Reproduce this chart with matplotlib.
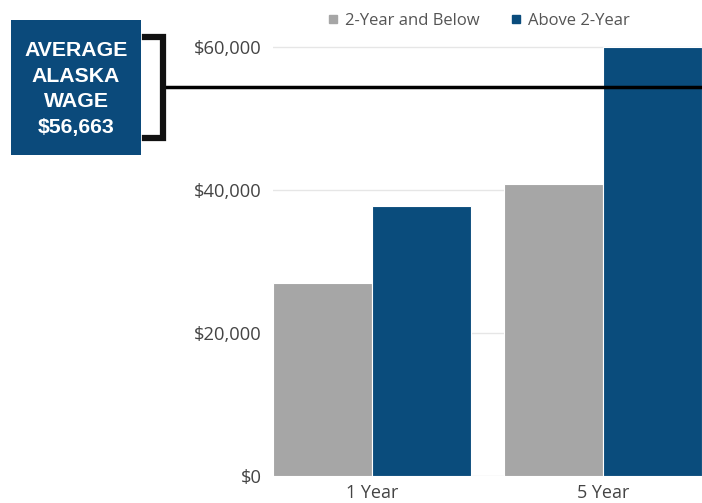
import matplotlib
matplotlib.use("Agg")
import matplotlib.pyplot as plt
import matplotlib.transforms as mtransforms
from matplotlib.patches import Rectangle
from matplotlib.lines import Line2D
import numpy as np

# data
categories = ["1 Year", "5 Year"]
series_names = ["2-Year and Below", "Above 2-Year"]
below_2yr = [27000, 40900]
above_2yr = [37700, 60000]
avg_label = "AVERAGE\nALASKA\nWAGE\n$56,663"
avg_line_value = 54400  # where the line sits in the picture
y_ticks = [0, 20000, 40000, 60000]

GREY = "#a6a6a6"
BLUE = "#0a4c7c"
TXT = "#444444"

plt.rcParams["font.family"] = ["Open Sans", "DejaVu Sans"]

W, H = 702, 503
fig = plt.figure(figsize=(W / 100, H / 100), dpi=100)
ax = fig.add_axes([273 / W, 1 - 476 / H, 1 - 273 / W, 476 / H])

x = np.arange(len(categories))
bw = 0.43
ax.bar(x - bw / 2, below_2yr, bw, color=GREY, edgecolor="white", linewidth=0.8, zorder=3)
ax.bar(x + bw / 2, above_2yr, bw, color=BLUE, edgecolor="white", linewidth=0.8, zorder=3)

ax.set_xlim(-0.43, 1.43)
ax.set_ylim(0, 476 / 143 * 20000)
ax.set_yticks(y_ticks)
ax.set_yticklabels(["${:,}".format(v) for v in y_ticks], color=TXT, fontsize=13.2)
ax.set_xticks(x)
ax.set_xticklabels(categories, color=TXT, fontsize=13)
ax.tick_params(axis="y", length=0, pad=8)
ax.tick_params(axis="x", length=0, pad=6)
ax.grid(axis="y", color="#e6e6e6", linewidth=1, zorder=0)
for s in ax.spines.values():
    s.set_visible(False)

# average wage line, runs from the bracket across the plot
blend = mtransforms.blended_transform_factory(fig.transFigure, ax.transData)
ax.plot([163 / W, 1.0], [avg_line_value, avg_line_value], color="black",
        linewidth=2.5, transform=blend, clip_on=False, zorder=5)

# bracket
def fx(px):
    return px / W

def fy(py):
    return 1 - py / H

bracket = Line2D([fx(145), fx(163), fx(163), fx(145)],
                 [fy(37), fy(37), fy(138), fy(138)],
                 color="#111111", linewidth=4.5, solid_joinstyle="miter",
                 transform=fig.transFigure)
fig.add_artist(bracket)

# label box
fig.add_artist(Rectangle((fx(11), fy(155)), (141 - 11) / W, (155 - 20) / H,
                         facecolor="#0b4a7b", edgecolor="none", transform=fig.transFigure))
fig.text(fx(76), fy(89), avg_label, color="white", fontsize=15.3, fontweight="bold",
         family=["Liberation Sans", "DejaVu Sans"], ha="center", va="center",
         linespacing=1.45)

# legend
handles = [Line2D([], [], marker="s", linestyle="none", markersize=6, color=GREY),
           Line2D([], [], marker="s", linestyle="none", markersize=6, color=BLUE)]
fig.legend(handles, series_names, loc="center", bbox_to_anchor=(478 / W, 1 - 21 / H),
           ncol=2, frameon=False, fontsize=12, labelcolor="#555555",
           handletextpad=0.3, columnspacing=1.8, handlelength=0.8)

fig.savefig("out.png", dpi=100)
